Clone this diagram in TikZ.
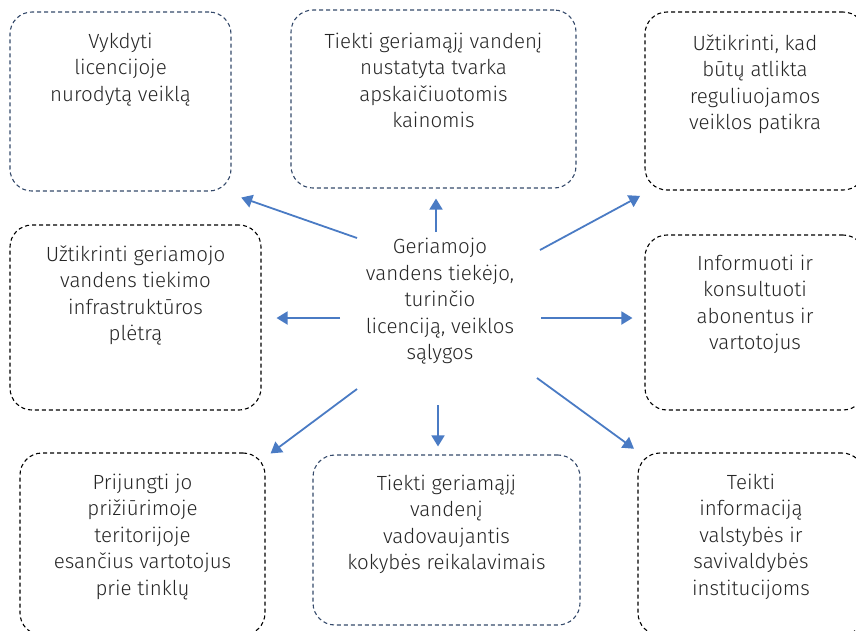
\documentclass[tikz,border=0pt]{standalone}
\usepackage{fontspec}
\setmainfont{Fira Sans}[UprightFont=* Light]
\usetikzlibrary{arrows.meta,positioning}
\definecolor{framegray}{HTML}{34496A}
\definecolor{arrowblue}{HTML}{4A7BC4}
\tikzset{
  card/.style={draw=#1, dash pattern=on 4pt off 3pt, line width=1.1pt, rounded corners=22pt, inner sep=0pt},
  cardtext/.style={align=center, font=\fontsize{20.5}{26.5}\selectfont, text=black!85, inner sep=0pt},
  arr/.style={-{Triangle[width=13pt,length=11pt]}, draw=arrowblue, line width=1.8pt}
}

\begin{document}
\begin{tikzpicture}[x=1pt,y=-1pt]
		%%%%% START %%%%%
		\useasboundingbox (0,0) rectangle (856,630);
		\clip (0,0) rectangle (856,630);
		
		% frames
		\node[card=framegray, minimum width=221pt, minimum height=179pt] (b1) at (120.5,101.5) {};
		\node[card=framegray, minimum width=285pt, minimum height=178pt] (b2) at (433.5,99) {};
		\node[card=black, minimum width=220pt, minimum height=178pt] (b3) at (755,101) {};
		\node[card=black, minimum width=251pt, minimum height=185pt] (b4) at (135.5,317.5) {};
		\node[card=black, minimum width=220pt, minimum height=175pt] (b5) at (755,322.5) {};
		\node[card=black, minimum width=245pt, minimum height=182pt] (b6) at (142.5,544) {};
		\node[card=framegray, minimum width=267pt, minimum height=170pt] (b7) at (446.5,540) {};
		\node[card=black, minimum width=226pt, minimum height=182pt] (b8) at (751,544) {};
		
		% texts
		\node[cardtext, below=21pt of b1.north] (t1) {Vykdyti\\licencijoje\\nurodytą veiklą};
		\node[cardtext, below=23pt of b2.north] (t2) {Tiekti geriamąjį vandenį\\nustatyta tvarka\\apskaičiuotomis\\kainomis};
		\node[cardtext, below=23pt of b3.north] (t3) {Užtikrinti, kad\\būtų atlikta\\reguliuojamos\\veiklos patikra};
		\node[cardtext, below=21pt of b4.north] (t4) {Užtikrinti geriamojo\\vandens tiekimo\\infrastruktūros\\plėtrą};
		\node[cardtext, below=20pt of b5.north] (t5) {Informuoti ir\\konsultuoti\\abonentus ir\\vartotojus};
		\node[cardtext, below=21pt of b6.north] (t6) {Prijungti jo\\prižiūrimoje\\teritorijoje\\esančius vartotojus\\prie tinklų};
		\node[cardtext, below=20pt of b7.north] (t7) {Tiekti geriamąjį\\vandenį\\vadovaujantis\\kokybės reikalavimais};
		\node[cardtext, below=21pt of b8.north] (t8) {Teikti\\informaciją\\valstybės ir\\savivaldybės\\institucijoms};
		
		\node[cardtext, anchor=north] (hub) at (440,238) {Geriamojo\\vandens tiekėjo,\\turinčio\\licenciją, veiklos\\sąlygos};
		
		% arrow tails
		\coordinate (a1) at (357,238);
		\coordinate (a2) at (436,232);
		\coordinate (a3) at (540,250);
		\coordinate (a4) at (340,318);
		\coordinate (a5) at (541,318);
		\coordinate (a6) at (357,389);
		\coordinate (a7) at (438,405);
		\coordinate (a8) at (537,378);
		
		\draw[arr, shorten >=6pt] (a1) -- ([shift={(4pt,-4pt)}]b1.south east);
		\draw[arr, shorten >=10pt] (a2) -- (a2 |- b2.south);
		\draw[arr, shorten >=5pt] (a3) -- ([shift={(0pt,-3pt)}]b3.south west);
		\draw[arr, shorten >=15pt] (a4) -- (a4 -| b4.east);
		\draw[arr, shorten >=12pt] (a5) -- (a5 -| b5.west);
		\draw[arr] (a6) -- ([shift={(5pt,-1pt)}]b6.north east);
		\draw[arr, shorten >=8pt] (a7) -- (a7 |- b7.north);
		\draw[arr, shorten >=8pt] (a8) -- ([shift={(3pt,-1pt)}]b8.north west);
		
		%%%%% END %%%%%
	\end{tikzpicture}
\end{document}
